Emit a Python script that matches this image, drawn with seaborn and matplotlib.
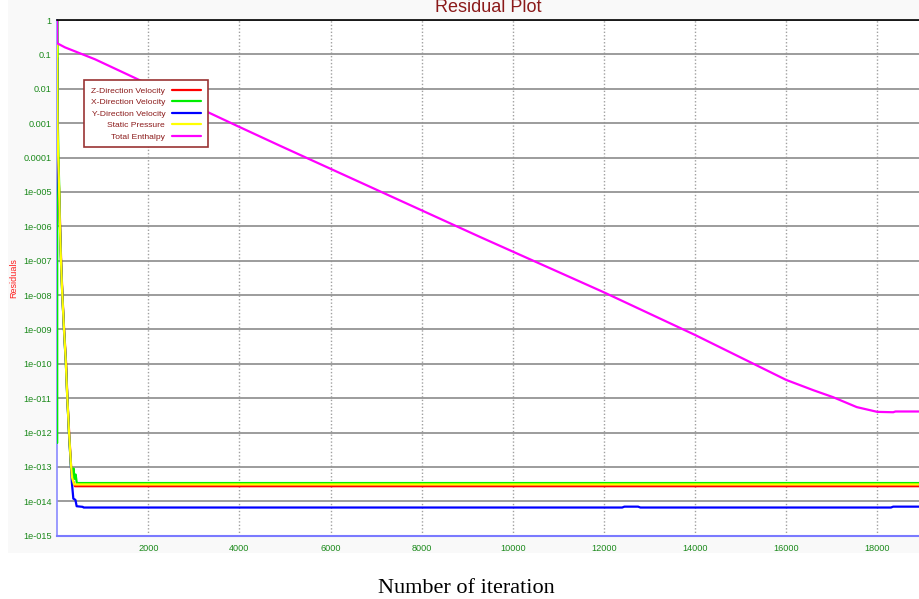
import numpy as np
import pandas as pd
import matplotlib
matplotlib.use("Agg")
import matplotlib.pyplot as plt
from matplotlib.lines import Line2D
from matplotlib.patches import Rectangle
import seaborn as sns

# ---- data -------------------------------------------------------------
series = ["Z-Direction Velocity", "X-Direction Velocity", "Y-Direction Velocity",
          "Static Pressure", "Total Enthalpy"]
colors = ["#ff0000", "#00ee00", "#0000ff", "#ffff00", "#ff00ff"]

z_iter = [1, 4, 12, 28, 48, 64, 86, 115, 152, 196, 224, 262, 306, 345, 390, 18916]
z_res = [3.5e-2, 1.5e-3, 2e-4, 3e-5, 8e-6, 1e-6, 1e-7, 1e-8, 1e-9, 1e-10, 1e-11,
         1e-12, 1e-13, 4e-14, 2.75e-14, 2.75e-14]

x_iter = [0, 1, 3, 10, 25, 45, 60, 82, 110, 147, 190, 220, 256, 300, 330, 360,
          380, 405, 430, 18916]
x_res = [5e-13, 1.0, 3e-2, 2e-3, 1.5e-4, 1.2e-5, 1.2e-6, 1.1e-7, 1.2e-8, 1.1e-9,
         1.1e-10, 1.2e-11, 1.1e-12, 1.1e-13, 6e-14, 9e-14, 4.5e-14, 6e-14,
         3.4e-14, 3.4e-14]

y_iter = [1, 3, 10, 22, 42, 62, 84, 113, 150, 192, 223, 260, 304, 322, 354, 400,
          427, 560, 580, 12400, 12450, 12750, 12800, 18300, 18350, 18916]
y_res = [8e-2, 4e-3, 3e-4, 3e-5, 6e-6, 9e-7, 9e-8, 9e-9, 9e-10, 9e-11, 9e-12,
         9e-13, 9e-14, 3.5e-14, 1.2e-14, 1.1e-14, 7.2e-15, 6.9e-15, 6.6e-15,
         6.6e-15, 7.0e-15, 7.0e-15, 6.6e-15, 6.6e-15, 7.0e-15, 7.0e-15]

p_iter = [1, 3, 8, 20, 40, 58, 80, 108, 145, 188, 218, 255, 298, 325, 370, 18916]
p_res = [0.2, 2e-2, 1e-3, 1.2e-4, 1.5e-5, 1.3e-6, 1.3e-7, 1.3e-8, 1.3e-9, 1.2e-10,
         1.3e-11, 1.3e-12, 1.4e-13, 5e-14, 3.1e-14, 3.1e-14]

h_iter = [0, 2, 170, 830, 1600, 3950, 4890, 9280, 10600, 12000, 14000, 16000,
          16600, 17030, 17550, 18000, 18350, 18400, 18916]
h_res = [1.0, 0.21, 0.16, 7.2e-2, 2.4e-2, 8.3e-4, 2.2e-4, 4.9e-7, 8.1e-8, 1.2e-8,
         6.9e-10, 3.4e-11, 1.7e-11, 1.07e-11, 5.5e-12, 4.0e-12, 3.9e-12, 4.1e-12,
         4.1e-12]

yticks = [10.0 ** -k for k in range(16)]
ytick_labels = ["1", "0.1", "0.01", "0.001", "0.0001"] + \
               [f"1e-{k:03d}" for k in range(5, 16)]
xticks = [2000, 4000, 6000, 8000, 10000, 12000, 14000, 16000, 18000]

# ---- assemble long-form frame ----------------------------------------
frames = []
for name, it, rs in zip(series, [z_iter, x_iter, y_iter, p_iter, h_iter],
                        [z_res, x_res, y_res, p_res, h_res]):
    frames.append(pd.DataFrame({"iteration": it, "residual": rs, "series": name}))
df = pd.concat(frames, ignore_index=True)
palette = dict(zip(series, colors))

# ---- figure -----------------------------------------------------------
sns.set_style("white")
plt.rcParams["font.family"] = ["Liberation Sans", "DejaVu Sans"]

W, H = 919, 599
fig = plt.figure(figsize=(W / 100, H / 100), dpi=100)
fig.patch.set_facecolor("white")
panel = Rectangle((8 / W, 1 - 553 / H), 1 - 8 / W, 553 / H,
                  transform=fig.transFigure, facecolor="#f9f9f9",
                  edgecolor="none", zorder=-5)
fig.patches.append(panel)

left, right, top, bottom = 57.2, 919, 20, 535.7
ax = fig.add_axes([left / W, 1 - bottom / H, (right - left) / W, (bottom - top) / H])
ax.set_zorder(1)
ax.set_facecolor("white")

sns.lineplot(data=df, x="iteration", y="residual", hue="series",
             hue_order=series, palette=palette, estimator=None, sort=False,
             legend=False, linewidth=1.6, ax=ax)

ax.set_yscale("log")
ax.set_ylim(1e-15, 1)
ax.set_xlim(0, 18916)
ax.set_yticks(yticks)
ax.set_yticklabels(ytick_labels)
ax.yaxis.set_minor_locator(matplotlib.ticker.NullLocator())
ax.set_xticks(xticks)
ax.set_xticklabels([str(v) for v in xticks])

# grid: solid horizontal decades, dotted vertical
ax.grid(axis="y", color="#949494", linewidth=1.3, linestyle="-")
ax.grid(axis="x", color="#a0a0a0", linewidth=1.0, linestyle=(0, (1, 1.5)))
ax.set_axisbelow(True)

ax.tick_params(axis="y", direction="in", length=3, width=1, color="#3030ff",
               labelcolor="#1c8a1c", labelsize=6.6, pad=4)
ax.tick_params(axis="x", direction="in", length=6, width=1.2, color="#4040ff",
               labelcolor="#1c8a1c", labelsize=6.6, pad=6)

ax.spines["right"].set_visible(False)
ax.spines["top"].set_color("black")
ax.spines["top"].set_linewidth(1.2)
ax.spines["left"].set_color("#8a8aff")
ax.spines["left"].set_linewidth(1.2)
ax.spines["left"].set_zorder(1.5)
ax.spines["bottom"].set_color("#7a7aff")
ax.spines["bottom"].set_linewidth(1.5)

ax.set_xlabel("")
ax.set_ylabel("")

# labels
fig.text(14 / W, 1 - 278 / H, "Residuals", rotation=90, color="#ff2020",
         fontsize=6.5, ha="center", va="center")
fig.text((left + right) / 2 / W, 1 - 11.5 / H, "Residual Plot", color="#8b1a1a",
         fontsize=13, ha="center", va="baseline")
fig.text(466 / W, 1 - 593 / H, "Number of iteration", color="black",
         fontsize=16, ha="center", va="baseline", family="Liberation Serif")

# legend with labels right-aligned against the line samples
handles = [Line2D([], [], color=palette[s], linewidth=1.6) for s in series]
leg = fig.legend(handles, series, loc="upper left",
                 bbox_to_anchor=(84 / W, 1 - 80 / H), markerfirst=False,
                 frameon=True, fancybox=False, framealpha=1,
                 edgecolor="#993333", prop={"family": "Liberation Sans", "size": 6.1},
                 handlelength=3.5, handletextpad=0.75, labelspacing=0.42,
                 borderpad=0.8, borderaxespad=0)
leg.set_zorder(10)
leg.get_frame().set_linewidth(1.2)
for t in leg.get_texts():
    t.set_color("#8b1a1a")

fig.savefig("out.png", dpi=100)
